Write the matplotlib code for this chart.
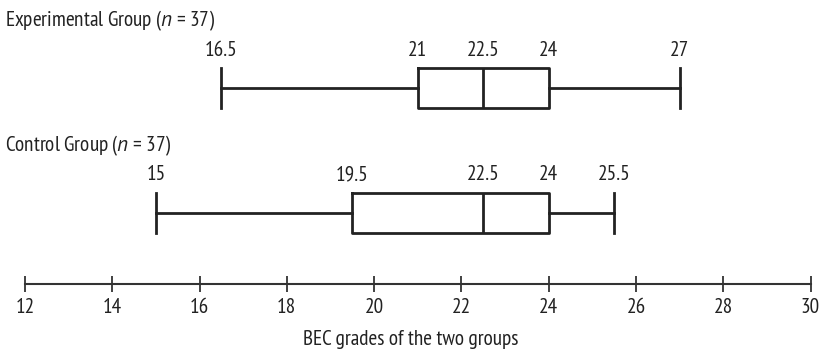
import matplotlib
matplotlib.use("Agg")
import matplotlib.pyplot as plt
from matplotlib import font_manager

# box plot summaries
groups = ["Experimental Group", "Control Group"]
n_obs = [37, 37]
low = [16.5, 15]
q1 = [21, 19.5]
med = [22.5, 22.5]
q3 = [24, 24]
high = [27, 25.5]
ticks = list(range(12, 31, 2))

names = {f.name for f in font_manager.fontManager.ttflist}
fam = next((f for f in ["PT Sans Narrow", "Fira Sans Condensed",
                        "Archivo Narrow", "Barlow Semi Condensed"]
            if f in names), "DejaVu Sans")
it_fam = next((f for f in ["PT Sans", "Fira Sans Condensed", "Archivo Narrow"]
               if f in names), fam)
plt.rcParams["font.family"] = [fam, "DejaVu Sans"]
plt.rcParams["mathtext.fontset"] = "custom"
plt.rcParams["mathtext.it"] = it_fam + ":italic"
plt.rcParams["mathtext.rm"] = fam

ink = "#222222"
fs = 15.3

fig = plt.figure(figsize=(8.21, 3.5), dpi=100)
ax = fig.add_axes([0, 0, 1, 1])
# vertical axis in pixel units, horizontal in grade units
px = (810.5 - 25) / 18
ax.set_xlim(12 - 25 / px, 12 + 796 / px)
ax.set_ylim(350, 0)

rows = [87.5, 212.5]
stats = []
for i in range(len(groups)):
    stats.append(dict(whislo=low[i], q1=q1[i], med=med[i], q3=q3[i],
                      whishi=high[i], fliers=[]))

lw = 2.0
ax.bxp(stats, positions=rows, widths=40, capwidths=40,
       orientation="horizontal", showfliers=False, manage_ticks=False,
       boxprops=dict(color=ink, linewidth=lw),
       whiskerprops=dict(color=ink, linewidth=lw),
       capprops=dict(color=ink, linewidth=lw),
       medianprops=dict(color=ink, linewidth=lw))

for i, g in enumerate(groups):
    y = rows[i]
    ax.text(5 / px + ax.get_xlim()[0], y - 67, f"{g} ($n$ = {n_obs[i]})",
            ha="left", va="center", fontsize=fs, color=ink)
    for v in [low[i], q1[i], med[i], q3[i], high[i]]:
        ax.text(v, y - 28, f"{v:g}", ha="center", va="bottom",
                fontsize=fs, color=ink)

for side in ["left", "right", "top"]:
    ax.spines[side].set_visible(False)
ax.spines["bottom"].set_position(("data", 284))
ax.spines["bottom"].set_bounds(12, 30)
ax.spines["bottom"].set_color("#333333")
ax.spines["bottom"].set_linewidth(1.5)
ax.set_yticks([])
ax.set_xticks(ticks)
ax.tick_params(axis="x", direction="inout", length=11.5, width=1.3,
               color="#333333", labelsize=fs, labelcolor=ink, pad=4)
ax.set_xlabel("BEC grades of the two groups", fontsize=fs, color=ink,
              labelpad=10)

fig.savefig("out.png", dpi=100)
